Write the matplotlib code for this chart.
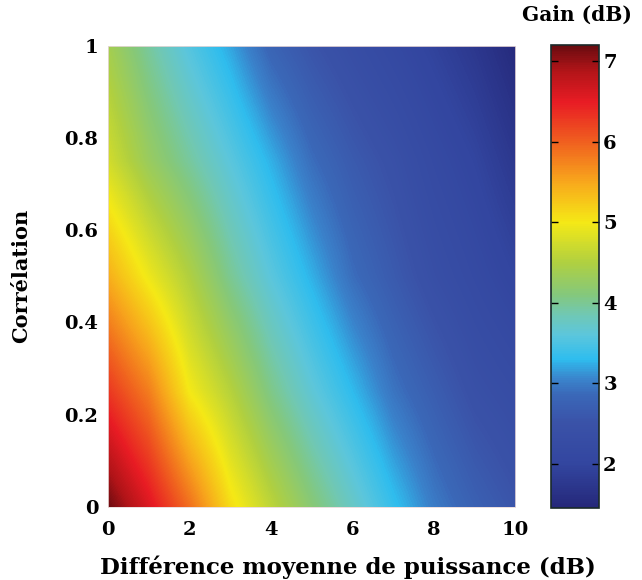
import numpy as np
import matplotlib
matplotlib.use("Agg")
import matplotlib.pyplot as plt
from matplotlib.colors import LinearSegmentedColormap

# -----------------------------
# Data
# -----------------------------
diff_db = [0, 1, 2, 3, 4, 5, 6, 7, 8, 9, 10]
correlation = [0, 0.25, 0.5, 0.75, 1.0]

gain_c000 = [7.2, 6.6, 5.9, 5.1, 4.6, 4.15, 3.75, 3.35, 3.0, 2.75, 2.55]
gain_c025 = [6.3, 5.8, 5.0, 4.55, 4.05, 3.65, 3.3, 2.95, 2.7, 2.45, 2.3]
gain_c050 = [5.45, 4.95, 4.5, 4.0, 3.6, 3.25, 2.9, 2.65, 2.4, 2.2, 2.0]
gain_c075 = [4.75, 4.3, 3.95, 3.6, 3.25, 2.9, 2.65, 2.45, 2.2, 2.0, 1.75]
gain_c100 = [4.4, 3.95, 3.55, 3.2, 2.8, 2.55, 2.35, 2.15, 1.95, 1.75, 1.5]

cbar_ticks = [2, 3, 4, 5, 6, 7]
vmin, vmax = 1.45, 7.2

# colormap sampled from the colour bar (value, colour)
cmap_stops = [
    (1.45, "#25287a"),
    (2.0, "#3346a0"),
    (2.5, "#3a52a8"),
    (2.85, "#3a68b8"),
    (3.05, "#3a84cc"),
    (3.3, "#2fbdee"),
    (3.6, "#5cc6dc"),
    (3.85, "#70c8b4"),
    (4.1, "#84c87c"),
    (4.5, "#b0d040"),
    (5.0, "#f5e916"),
    (5.5, "#f8a81c"),
    (6.0, "#f0601f"),
    (6.5, "#e81c24"),
    (6.9, "#b01418"),
    (7.2, "#6a0c10"),
]

gain = np.array([gain_c000, gain_c025, gain_c050, gain_c075, gain_c100])

cmap = LinearSegmentedColormap.from_list(
    "gain", [((v - vmin) / (vmax - vmin), c) for v, c in cmap_stops])

plt.rcParams["font.family"] = ["DejaVu Serif"]
plt.rcParams["font.weight"] = "bold"

fig = plt.figure(figsize=(6.42, 5.8), dpi=100)
ax = fig.add_axes([0.168, 0.126, 0.634, 0.795])
cax = fig.add_axes([0.858, 0.124, 0.075, 0.798])

# pixel centres sit on the sampled grid points
dx = (diff_db[1] - diff_db[0]) / 2
dy = (correlation[1] - correlation[0]) / 2
img = ax.imshow(gain, cmap=cmap, vmin=vmin, vmax=vmax, origin="lower",
                aspect="auto", interpolation="bilinear",
                extent=(diff_db[0] - dx, diff_db[-1] + dx,
                        correlation[0] - dy, correlation[-1] + dy))
ax.set_xlim(0, 10)
ax.set_ylim(0, 1)
ax.set_xticks([0, 2, 4, 6, 8, 10])
ax.set_yticks([0, 0.2, 0.4, 0.6, 0.8, 1])
ax.set_yticklabels(["0", "0.2", "0.4", "0.6", "0.8", "1"])
ax.tick_params(length=0, labelsize=14)
ax.tick_params(axis="x", pad=10)
ax.tick_params(axis="y", pad=7)
for s in ax.spines.values():
    s.set_linewidth(0.6)
    s.set_color("#e8d8d8")

ax.set_xlabel("Différence moyenne de puissance (dB)", fontsize=16.5,
              fontweight="bold", va="center")
ax.xaxis.set_label_coords(0.59, -0.13)
ax.set_ylabel("Corrélation", fontsize=15, fontweight="bold", labelpad=24)

cb = fig.colorbar(img, cax=cax, ticks=cbar_ticks)
cb.outline.set_linewidth(1.2)
cb.outline.set_edgecolor("#1a2a2a")
cax.tick_params(labelsize=14, direction="in", length=5, width=1,
                left=True, right=True, pad=3)
cax.text(-0.6, 1.045, "Gain (dB)", transform=cax.transAxes, fontsize=14.5,
         fontweight="bold", ha="left", va="bottom")

fig.savefig("out.png", dpi=100)
